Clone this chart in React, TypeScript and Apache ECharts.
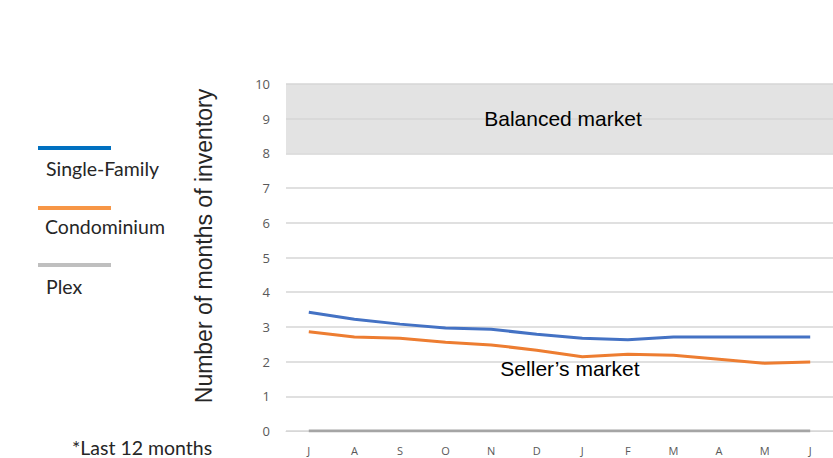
import React, { useEffect, useRef } from "react";
import * as echarts from "echarts";

const categories = ["J", "A", "S", "O", "N", "D", "J", "F", "M", "A", "M", "J"];
const singleFamily = [3.42, 3.22, 3.08, 2.97, 2.93, 2.79, 2.67, 2.63, 2.71, 2.71, 2.71, 2.71];
const condominium = [2.86, 2.71, 2.67, 2.56, 2.48, 2.33, 2.14, 2.21, 2.18, 2.07, 1.95, 1.99];
const plex = [0, 0, 0, 0, 0, 0, 0, 0, 0, 0, 0, 0];
const yTicks = { min: 0, max: 10, interval: 1 };
const balancedBand = [8, 10];

export default function App() {
  const ref = useRef<HTMLDivElement>(null);
  useEffect(() => {
    document.body.style.margin = "0";
    const chart = echarts.init(ref.current!, null, { renderer: "svg" });
    const legendFont = "Lato, 'DejaVu Sans', sans-serif";
    const arial = "'Liberation Sans', Arial, sans-serif";
    chart.setOption({
      animation: false,
      grid: { left: 286, top: 84, width: 558, bottom: 27, containLabel: false },
      xAxis: {
        type: "category",
        data: categories,
        boundaryGap: true,
        axisTick: { show: false },
        axisLine: { lineStyle: { color: "#d9d9d9" } },
        axisLabel: { color: "#595959", fontSize: 11, margin: 14, fontFamily: "'Open Sans', sans-serif" },
      },
      yAxis: {
        type: "value",
        z: 1.5,
        min: yTicks.min,
        max: yTicks.max,
        interval: yTicks.interval,
        axisLabel: { color: "#595959", fontSize: 13, margin: 16, fontFamily: "'Open Sans', sans-serif" },
        splitLine: { lineStyle: { color: "#d6d6d6", width: 1.5 } },
        axisLine: { show: false },
        axisTick: { show: false },
      },
      series: [
        {
          type: "line",
          data: [],
          silent: true,
          markArea: {
            silent: true,
            itemStyle: { color: "#e3e3e3" },
            data: [[{ yAxis: balancedBand[0] }, { yAxis: balancedBand[1] }]],
          },
        },
        {
          name: "Plex",
          type: "line",
          data: plex,
          showSymbol: false,
          lineStyle: { color: "#a5a5a5", width: 3 },
          z: 3,
        },
        {
          name: "Condominium",
          type: "line",
          data: condominium,
          showSymbol: false,
          lineStyle: { color: "#ed7d31", width: 3 },
        },
        {
          name: "Single-Family",
          type: "line",
          data: singleFamily,
          showSymbol: false,
          lineStyle: { color: "#4472c4", width: 3 },
        },
      ],
      graphic: [
        { type: "line", z: 100, shape: { x1: 38, y1: 148, x2: 111, y2: 148 }, style: { stroke: "#0070c0", lineWidth: 4 } },
        { type: "text", z: 100, left: 46, top: 158, style: { text: "Single-Family", fontSize: 19.5, fill: "#262626", fontFamily: legendFont } },
        { type: "line", z: 100, shape: { x1: 38, y1: 208, x2: 111, y2: 208 }, style: { stroke: "#f79646", lineWidth: 4 } },
        { type: "text", z: 100, left: 45, top: 216, style: { text: "Condominium", fontSize: 19.5, fill: "#262626", fontFamily: legendFont } },
        { type: "line", z: 100, shape: { x1: 38, y1: 265, x2: 111, y2: 265 }, style: { stroke: "#bfbfbf", lineWidth: 4 } },
        { type: "text", z: 100, left: 46, top: 276, style: { text: "Plex", fontSize: 19.5, fill: "#262626", fontFamily: legendFont } },
        { type: "text", z: 100, left: 72, top: 437, style: { text: "*Last 12 months", fontSize: 19.5, fill: "#262626", fontFamily: legendFont } },
        {
          type: "text",
          z: 100,
          x: 204,
          y: 246,
          rotation: Math.PI / 2,
          style: {
            text: "Number of months of inventory",
            fontSize: 23,
            fill: "#262626",
            fontFamily: arial,
            align: "center",
            verticalAlign: "middle",
          },
        },
        {
          type: "text",
          z: 100,
          x: 563,
          y: 118,
          style: {
            text: "Balanced market",
            fontSize: 21,
            fill: "#000000",
            fontFamily: arial,
            align: "center",
            verticalAlign: "middle",
          },
        },
        {
          type: "text",
          z: 100,
          x: 570,
          y: 368,
          style: {
            text: "Seller\u2019s market",
            fontSize: 21,
            fill: "#000000",
            fontFamily: arial,
            align: "center",
            verticalAlign: "middle",
          },
        },
      ],
    });
    return () => chart.dispose();
  }, []);
  return <div ref={ref} style={{ width: 833, height: 458 }} />;
}
